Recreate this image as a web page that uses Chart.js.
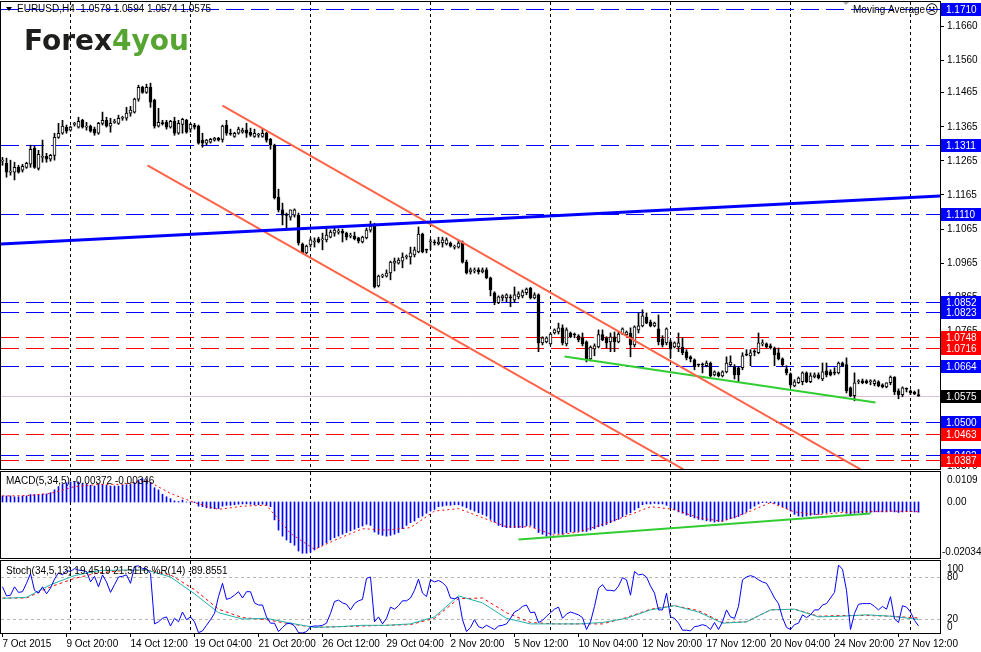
<!DOCTYPE html>
<html>
<head>
<meta charset="utf-8">
<script src="https://cdn.jsdelivr.net/npm/chart.js@4.4.0/dist/chart.umd.min.js"></script>
<style>
  body { margin: 0; background: #fff; width: 981px; height: 652px; overflow: hidden; }
  canvas { position: absolute; left: 0; }
</style>
</head>
<body>
<canvas id="priceChart" style="top:0px" width="981" height="470"></canvas>
<canvas id="macdChart" style="top:470px" width="981" height="89"></canvas>
<canvas id="stochChart" style="top:559px" width="981" height="93"></canvas>
<script>
// EURUSD H4, 7 Oct - 27 Nov 2015, one entry per bar
const timeLabels = ['7 Oct 2015', '9 Oct 20:00', '14 Oct 12:00', '19 Oct 04:00', '21 Oct 20:00',
  '26 Oct 12:00', '29 Oct 04:00', '2 Nov 20:00', '5 Nov 12:00', '10 Nov 04:00', '12 Nov 20:00',
  '17 Nov 12:00', '20 Nov 04:00', '24 Nov 20:00', '27 Nov 12:00'];
const LABEL_STEP = 16;
const gridBars = [17, 47, 77, 107, 137, 167, 197, 227];

const opens = [
  1.1264,1.1258,1.1232,1.1232,1.1246,1.1238,1.1246,1.1255,1.1302,1.1243,
  1.1275,1.1278,1.1270,1.1281,1.1334,1.1346,1.1364,1.1355,1.1372,1.1364,
  1.1384,1.1364,1.1367,1.1358,1.1346,1.1375,1.1384,1.1367,1.1378,1.1375,
  1.1390,1.1390,1.1405,1.1408,1.1446,1.1481,1.1466,1.1481,1.1443,1.1367,
  1.1375,1.1378,1.1364,1.1381,1.1346,1.1372,1.1384,1.1358,1.1370,1.1367,
  1.1326,1.1317,1.1320,1.1326,1.1331,1.1328,1.1370,1.1346,1.1337,1.1346,
  1.1349,1.1355,1.1349,1.1337,1.1340,1.1337,1.1346,1.1328,1.1311,1.1159,
  1.1121,1.1106,1.1100,1.1106,1.1106,1.1021,1.0995,1.1018,1.1027,1.1036,
  1.1033,1.1033,1.1041,1.1053,1.1056,1.1059,1.1053,1.1044,1.1044,1.1039,
  1.1027,1.1039,1.1062,1.1074,1.0898,1.0927,1.0927,1.0936,1.0965,1.0965,
  1.0971,1.0983,1.0983,1.0989,1.0998,1.1050,1.1004,1.1027,1.1027,1.1021,
  1.1024,1.1021,1.1024,1.1012,1.1012,1.1027,1.0968,1.0939,1.0942,1.0945,
  1.0939,1.0945,1.0922,1.0878,1.0849,1.0863,1.0863,1.0866,1.0857,1.0866,
  1.0869,1.0878,1.0892,1.0863,1.0872,1.0731,1.0734,1.0728,1.0760,1.0763,
  1.0775,1.0728,1.0760,1.0755,1.0752,1.0746,1.0734,1.0684,1.0713,1.0719,
  1.0755,1.0746,1.0734,1.0749,1.0734,1.0757,1.0755,1.0760,1.0725,1.0769,
  1.0781,1.0807,1.0792,1.0781,1.0772,1.0743,1.0731,1.0734,1.0719,1.0719,
  1.0719,1.0705,1.0690,1.0681,1.0667,1.0667,1.0664,1.0672,1.0637,1.0643,
  1.0634,1.0646,1.0667,1.0661,1.0658,1.0658,1.0696,1.0693,1.0705,1.0702,
  1.0728,1.0728,1.0722,1.0716,1.0702,1.0684,1.0655,1.0640,1.0605,1.0614,
  1.0617,1.0643,1.0617,1.0631,1.0637,1.0625,1.0649,1.0646,1.0643,1.0643,
  1.0672,1.0667,1.0599,1.0576,1.0617,1.0620,1.0620,1.0617,1.0611,1.0617,
  1.0608,1.0602,1.0614,1.0631,1.0590,1.0579,1.0596,1.0590,1.0587,1.0579
];
const highs = [
  1.1275,1.1273,1.1267,1.1261,1.1252,1.1255,1.1261,1.1311,1.1308,1.1296,
  1.1326,1.1287,1.1284,1.1346,1.1375,1.1384,1.1370,1.1367,1.1378,1.1393,
  1.1387,1.1378,1.1370,1.1364,1.1378,1.1408,1.1393,1.1390,1.1387,1.1399,
  1.1396,1.1422,1.1425,1.1449,1.1487,1.1484,1.1490,1.1493,1.1446,1.1419,
  1.1384,1.1384,1.1384,1.1393,1.1384,1.1390,1.1387,1.1375,1.1375,1.1370,
  1.1346,1.1328,1.1331,1.1334,1.1334,1.1370,1.1384,1.1358,1.1349,1.1364,
  1.1361,1.1375,1.1361,1.1358,1.1346,1.1358,1.1349,1.1331,1.1314,1.1182,
  1.1141,1.1112,1.1121,1.1124,1.1112,1.1024,1.1018,1.1039,1.1039,1.1041,
  1.1053,1.1065,1.1062,1.1068,1.1065,1.1065,1.1056,1.1053,1.1056,1.1041,
  1.1044,1.1068,1.1088,1.1082,1.0930,1.0933,1.0945,1.0971,1.0980,1.0980,
  1.0995,1.0989,1.1012,1.1012,1.1071,1.1053,1.1006,1.1036,1.1033,1.1041,
  1.1041,1.1039,1.1027,1.1018,1.1033,1.1030,1.0974,1.0951,1.0951,1.0951,
  1.0951,1.0951,1.0924,1.0881,1.0869,1.0872,1.0875,1.0872,1.0895,1.0881,
  1.0886,1.0892,1.0894,1.0878,1.0875,1.0749,1.0749,1.0760,1.0772,1.0789,
  1.0784,1.0775,1.0763,1.0760,1.0755,1.0760,1.0737,1.0722,1.0728,1.0769,
  1.0769,1.0749,1.0760,1.0763,1.0763,1.0775,1.0766,1.0775,1.0781,1.0819,
  1.0828,1.0819,1.0798,1.0792,1.0813,1.0752,1.0775,1.0740,1.0734,1.0760,
  1.0746,1.0711,1.0693,1.0684,1.0669,1.0672,1.0678,1.0675,1.0649,1.0646,
  1.0649,1.0690,1.0693,1.0667,1.0661,1.0702,1.0711,1.0711,1.0711,1.0760,
  1.0740,1.0731,1.0728,1.0719,1.0716,1.0687,1.0664,1.0643,1.0623,1.0631,
  1.0646,1.0646,1.0643,1.0643,1.0643,1.0672,1.0672,1.0652,1.0658,1.0675,
  1.0675,1.0687,1.0602,1.0643,1.0623,1.0625,1.0623,1.0623,1.0623,1.0620,
  1.0611,1.0614,1.0634,1.0632,1.0596,1.0602,1.0599,1.0593,1.0590,1.0594
];
const lows = [
  1.1252,1.1217,1.1223,1.1209,1.1229,1.1232,1.1243,1.1246,1.1243,1.1238,
  1.1261,1.1261,1.1264,1.1267,1.1331,1.1343,1.1346,1.1352,1.1367,1.1361,
  1.1361,1.1355,1.1349,1.1340,1.1343,1.1370,1.1364,1.1349,1.1375,1.1372,
  1.1384,1.1384,1.1396,1.1405,1.1440,1.1463,1.1463,1.1422,1.1361,1.1364,
  1.1370,1.1358,1.1361,1.1340,1.1343,1.1346,1.1346,1.1349,1.1358,1.1314,
  1.1305,1.1311,1.1317,1.1323,1.1323,1.1320,1.1340,1.1340,1.1334,1.1343,
  1.1346,1.1334,1.1337,1.1334,1.1334,1.1334,1.1320,1.1299,1.1153,1.1115,
  1.1077,1.1068,1.1091,1.1100,1.1018,1.0992,1.0992,1.1012,1.1012,1.1024,
  1.1004,1.1027,1.1039,1.1044,1.1050,1.1027,1.1033,1.1039,1.1033,1.1024,
  1.1024,1.1036,1.1056,1.0892,1.0895,1.0922,1.0924,1.0916,1.0942,1.0962,
  1.0951,1.0977,1.0962,1.0983,1.0995,1.0995,1.0995,1.1004,1.1018,1.1018,
  1.1012,1.1018,1.1012,1.1006,1.1009,1.0965,1.0933,1.0933,1.0936,1.0933,
  1.0936,1.0919,1.0869,1.0843,1.0846,1.0854,1.0852,1.0837,1.0849,1.0860,
  1.0863,1.0872,1.0860,1.0860,1.0705,1.0725,1.0731,1.0725,1.0757,1.0757,
  1.0725,1.0722,1.0746,1.0746,1.0734,1.0722,1.0675,1.0678,1.0693,1.0716,
  1.0737,1.0716,1.0705,1.0705,1.0731,1.0755,1.0752,1.0690,1.0719,1.0760,
  1.0778,1.0787,1.0778,1.0778,1.0725,1.0719,1.0725,1.0687,1.0716,1.0705,
  1.0696,1.0681,1.0675,1.0652,1.0661,1.0643,1.0661,1.0631,1.0634,1.0631,
  1.0631,1.0643,1.0661,1.0625,1.0617,1.0652,1.0693,1.0664,1.0693,1.0699,
  1.0722,1.0716,1.0713,1.0664,1.0681,1.0661,1.0637,1.0602,1.0602,1.0612,
  1.0608,1.0614,1.0614,1.0628,1.0625,1.0620,1.0631,1.0634,1.0637,1.0640,
  1.0661,1.0584,1.0573,1.0561,1.0611,1.0611,1.0611,1.0608,1.0605,1.0602,
  1.0599,1.0599,1.0608,1.0579,1.0567,1.0573,1.0587,1.0579,1.0579,1.0574
];
const closes = [
  1.1267,1.1232,1.1235,1.1246,1.1232,1.1249,1.1258,1.1299,1.1246,1.1284,
  1.1278,1.1270,1.1281,1.1334,1.1346,1.1367,1.1352,1.1364,1.1375,1.1381,
  1.1364,1.1365,1.1352,1.1346,1.1375,1.1384,1.1367,1.1375,1.1379,1.1390,
  1.1391,1.1405,1.1414,1.1446,1.1481,1.1466,1.1481,1.1437,1.1367,1.1378,
  1.1374,1.1364,1.1381,1.1346,1.1375,1.1387,1.1349,1.1372,1.1364,1.1317,
  1.1317,1.1326,1.1328,1.1331,1.1326,1.1367,1.1346,1.1343,1.1346,1.1358,
  1.1355,1.1346,1.1340,1.1346,1.1341,1.1346,1.1326,1.1311,1.1156,1.1121,
  1.1106,1.1105,1.1121,1.1121,1.1024,1.0995,1.1015,1.1033,1.1028,1.1027,
  1.1034,1.1047,1.1056,1.1062,1.1057,1.1053,1.1041,1.1045,1.1036,1.1030,
  1.1041,1.1062,1.1074,1.0895,1.0927,1.0928,1.0936,1.0968,1.0971,1.0974,
  1.0983,1.0984,1.0995,1.1004,1.1050,1.0998,1.1003,1.1028,1.1024,1.1027,
  1.1033,1.1033,1.1015,1.1013,1.1024,1.0968,1.0936,1.0945,1.0943,1.0939,
  1.0945,1.0922,1.0886,1.0849,1.0866,1.0869,1.0872,1.0863,1.0872,1.0875,
  1.0881,1.0889,1.0863,1.0872,1.0731,1.0746,1.0746,1.0757,1.0769,1.0775,
  1.0731,1.0769,1.0749,1.0754,1.0740,1.0728,1.0681,1.0719,1.0722,1.0755,
  1.0740,1.0731,1.0749,1.0734,1.0757,1.0772,1.0763,1.0725,1.0778,1.0781,
  1.0810,1.0789,1.0781,1.0789,1.0734,1.0725,1.0772,1.0713,1.0731,1.0731,
  1.0702,1.0687,1.0684,1.0661,1.0666,1.0666,1.0672,1.0634,1.0646,1.0634,
  1.0646,1.0672,1.0675,1.0637,1.0637,1.0693,1.0695,1.0702,1.0704,1.0731,
  1.0729,1.0719,1.0716,1.0696,1.0684,1.0667,1.0643,1.0608,1.0617,1.0628,
  1.0643,1.0617,1.0634,1.0637,1.0628,1.0646,1.0637,1.0637,1.0642,1.0672,
  1.0664,1.0590,1.0576,1.0614,1.0618,1.0614,1.0614,1.0618,1.0620,1.0605,
  1.0602,1.0614,1.0631,1.0587,1.0579,1.0599,1.0595,1.0584,1.0581,1.0575
];

// MACD(5,34,5) histogram, one per bar
const macdHist = [
  0.0022,0.0022,0.0022,0.0019,0.0019,0.0022,0.0022,0.0027,0.0027,0.0027,
  0.0029,0.0029,0.0034,0.0044,0.0056,0.0064,0.0070,0.0073,0.0073,0.0073,
  0.0068,0.0064,0.0061,0.0058,0.0064,0.0064,0.0061,0.0058,0.0058,0.0058,
  0.0061,0.0063,0.0064,0.0070,0.0080,0.0085,0.0082,0.0070,0.0052,0.0044,
  0.0028,0.0019,0.0012,0.0004,0.0002,0.0007,0.0000,-0.0001,-0.0002,-0.0015,
  -0.0017,-0.0021,-0.0023,-0.0024,-0.0024,-0.0015,-0.0012,-0.0012,-0.0010,-0.0008,
  -0.0007,-0.0007,-0.0008,-0.0010,-0.0010,-0.0008,-0.0012,-0.0017,-0.0065,-0.0102,
  -0.0124,-0.0138,-0.0148,-0.0157,-0.0178,-0.0186,-0.0186,-0.0182,-0.0174,-0.0166,
  -0.0157,-0.0148,-0.0138,-0.0130,-0.0124,-0.0117,-0.0111,-0.0105,-0.0099,-0.0093,
  -0.0087,-0.0081,-0.0085,-0.0109,-0.0117,-0.0121,-0.0124,-0.0121,-0.0117,-0.0111,
  -0.0097,-0.0085,-0.0075,-0.0069,-0.0057,-0.0051,-0.0041,-0.0033,-0.0027,-0.0017,
  -0.0015,-0.0012,-0.0012,-0.0010,-0.0010,-0.0015,-0.0021,-0.0027,-0.0033,-0.0039,
  -0.0045,-0.0051,-0.0063,-0.0073,-0.0085,-0.0090,-0.0093,-0.0093,-0.0093,-0.0093,
  -0.0093,-0.0087,-0.0085,-0.0093,-0.0111,-0.0117,-0.0124,-0.0121,-0.0114,-0.0114,
  -0.0117,-0.0111,-0.0109,-0.0109,-0.0107,-0.0107,-0.0107,-0.0102,-0.0097,-0.0090,
  -0.0087,-0.0082,-0.0075,-0.0069,-0.0063,-0.0053,-0.0045,-0.0039,-0.0029,-0.0021,
  -0.0010,-0.0007,-0.0007,-0.0005,-0.0007,-0.0007,-0.0012,-0.0021,-0.0029,-0.0036,
  -0.0041,-0.0048,-0.0053,-0.0058,-0.0063,-0.0065,-0.0068,-0.0070,-0.0073,-0.0071,
  -0.0070,-0.0065,-0.0061,-0.0058,-0.0053,-0.0045,-0.0036,-0.0024,-0.0015,-0.0007,
  -0.0002,-0.0002,-0.0002,-0.0005,-0.0010,-0.0017,-0.0024,-0.0033,-0.0045,-0.0051,
  -0.0053,-0.0051,-0.0048,-0.0046,-0.0045,-0.0041,-0.0039,-0.0036,-0.0036,-0.0034,
  -0.0034,-0.0041,-0.0044,-0.0041,-0.0039,-0.0039,-0.0038,-0.0038,-0.0036,-0.0036,
  -0.0036,-0.0036,-0.0034,-0.0036,-0.0038,-0.0036,-0.0035,-0.0035,-0.0036,-0.0037
];

// smooth lines read once per day (every 6th bar) plus the last bar
const sampleBars = [0,6,12,18,24,30,36,42,48,54,60,66,72,78,84,90,96,102,108,114,
  120,126,132,138,144,150,156,162,168,174,180,186,192,198,204,210,216,222,229];
const macdSignal = [0.0022,0.0023,0.0031,0.0056,0.0064,0.0064,0.0079,0.0031,-0.0002,-0.0027,
  -0.0015,-0.0012,-0.0114,-0.0172,-0.0133,-0.0097,-0.0102,-0.0093,-0.0033,-0.0024,
  -0.0057,-0.0090,-0.0090,-0.0121,-0.0109,-0.0081,-0.0051,-0.0017,-0.0027,-0.0057,
  -0.0070,-0.0039,-0.0002,-0.0036,-0.0046,-0.0038,-0.0035,-0.0033,-0.0035];
const stochMain = [49.5,51,69,82,89,90,90,80,56,29,20,21,14,8,9,11,11,13,23,53,
  43,21,13,13,13,15,21,33,39,30,14,16,33,34,23,24,26,24,19.45];
const stochSignal = [50,50,66,78,86,89,90,83,62,34,22,19,13,8,9,10,11,12,21,49,
  50,29,15,13,13,13,22,34,39,32,15,16,33,34,24,25,25,24,21.51];

// Williams %R(14), one per bar
const wprValues = [
  -34,-47,-46,-34,-42,-41,-29,-15,-39,-43,
  -34,-44,-36,-23,-14,-17,-11,-12,-8,-10,
  -11,-12,-27,-19,-34,-17,-27,-42,-31,-20,
  -19,-17,-29,-5,-4,-8,-8,-15,-87,-84,
  -79,-77,-90,-79,-84,-70,-81,-77,-84,-99.5,
  -97,-89,-81,-72,-48,-29,-52,-50,-46,-41,
  -50,-41,-41,-57,-60,-60,-77,-86,-86,-98,
  -92,-87,-86,-90,-99.5,-100,-98,-91,-90,-90,
  -89,-86,-72,-55,-53,-57,-59,-67,-58,-54,
  -52,-22,-20,-84,-77,-87,-79,-63,-66,-61,
  -54,-54,-50,-39,-23,-43,-48,-24,-27,-25,
  -28,-34,-50,-51,-49,-81,-98,-92,-81,-91,
  -93,-89,-92,-95,-90,-89,-87,-79,-70,-67,
  -62,-60,-71,-70,-85,-82,-76,-71,-66,-63,
  -79,-73,-70,-72,-74,-78,-95,-84,-62,-36,
  -31,-39,-39,-40,-33,-21,-24,-46,-12,-17,
  -16,-20,-33,-43,-67,-67,-43,-77,-79,-86,
  -96,-96,-97,-91,-90,-88,-90,-95,-85,-95,
  -84,-67,-77,-79,-62,-24,-20,-18,-20,-24,
  -27,-29,-39,-50,-58,-78,-92,-95,-88,-86,
  -74,-78,-74,-67,-67,-60,-58,-50,-42,-3,
  -9,-39,-95,-72,-59,-58,-58,-58,-62,-67,
  -62,-66,-48,-80,-85,-61,-63,-70,-82,-89.86
];

// horizontal price levels and hand-drawn lines
const blueLevels = [1.1710, 1.1311, 1.1110, 1.0852, 1.0823, 1.0664, 1.0500, 1.0402];
const redLevels = [1.0748, 1.0716, 1.0463, 1.0387];
const priceTicks = [1.1660, 1.1560, 1.1465, 1.1365, 1.1265, 1.1165, 1.1065, 1.0965,
  1.0865, 1.0765, 1.0370];
const blueTrendBars = [-0.375, 234.375], blueTrendPrices = [1.1021, 1.1162];
const upperChannelBars = [55, 214.5], upperChannelPrices = [1.1427, 1.0360];
const lowerChannelBars = [36.25, 170.25], lowerChannelPrices = [1.1252, 1.0360];
const supportBars = [140.5, 218.25], supportPrices = [1.0691, 1.0556];
const macdTrendBars = [129, 217], macdTrendValues = [-0.0136, -0.0042];
const macdAxisTicks = [0.0109, 0, -0.02034];
const macdAxisText = ['0.0109', '0.00', '-0.02034'];
const stochAxisTicks = [100, 80, 20, 0];
const stochLevels = [80, 20];

const X_MIN = -0.375, X_MAX = 234.375; // 4 px per bar
const FONT = '"Liberation Sans", Arial, sans-serif';

Chart.defaults.font.family = FONT;
Chart.defaults.font.size = 10;
Chart.defaults.color = '#000';
Chart.defaults.animation = false;
Chart.defaults.plugins.legend.display = false;
Chart.defaults.plugins.tooltip.enabled = false;
Chart.defaults.elements.point.radius = 0;

const seg = (bars, vals) => bars.map((b, i) => ({ x: b, y: vals[i] }));
const last = closes.length - 1;

// right-hand axis: fixed width, no extra room for half labels at the ends
const fitRight = s => { s.width = 41; s.paddingTop = 0; s.paddingBottom = 0; };

function gridAxis() {
  return {
    type: 'linear', position: 'top', min: X_MIN, max: X_MAX, offset: false,
    afterFit: s => { s.height = 0; s.paddingLeft = 0; s.paddingRight = 0; },
    afterBuildTicks: s => { s.ticks = gridBars.map(v => ({ value: v })); },
    ticks: { display: false },
    grid: { offset: false, color: '#000', lineWidth: 1, drawTicks: false },
    border: { display: false, dash: [3, 3] }
  };
}
function hiddenX() {
  return { type: 'linear', min: X_MIN, max: X_MAX, offset: false, display: false, grid: { offset: false } };
}
function frame(ctx, a) {
  ctx.strokeStyle = '#000';
  ctx.lineWidth = 1;
  ctx.setLineDash([]);
  ctx.strokeRect(a.left - 0.5, a.top - 0.5, a.right - a.left + 1, a.bottom - a.top + 1);
}
function lineDs(data, color, width, order, extra) {
  return Object.assign({ type: 'line', data, borderColor: color, borderWidth: width,
    pointRadius: 0, fill: false, order }, extra || {});
}

// ---------- price panel ----------
const priceOverlay = {
  id: 'priceOverlay',
  beforeDatasetsDraw(chart) {
    const { ctx, chartArea: a, scales: { y } } = chart;
    ctx.save();
    ctx.lineWidth = 1;
    const level = (p, color) => {
      const py = Math.round(y.getPixelForValue(p)) + 0.5;
      ctx.strokeStyle = color;
      ctx.beginPath(); ctx.moveTo(a.left, py); ctx.lineTo(a.right, py); ctx.stroke();
    };
    ctx.setLineDash([]);
    level(closes[last], '#dcbfdc');
    ctx.setLineDash([18, 7]);
    blueLevels.forEach(p => level(p, '#0000ff'));
    redLevels.forEach(p => level(p, '#ff0000'));
    ctx.restore();
  },
  afterDraw(chart) {
    const { ctx, chartArea: a, scales: { y } } = chart;
    ctx.save();
    frame(ctx, a);
    // price tags on the right axis
    ctx.font = '10px ' + FONT;
    ctx.textBaseline = 'middle';
    const tag = (p, bg) => {
      const py = Math.round(y.getPixelForValue(p));
      ctx.fillStyle = bg;
      ctx.fillRect(a.right + 1, py - 6, 40, 13);
      ctx.fillStyle = '#fff';
      ctx.fillText(p.toFixed(4), a.right + 6, py + 1);
    };
    blueLevels.forEach(p => tag(p, '#0000ff'));
    redLevels.forEach(p => tag(p, '#ff0000'));
    tag(closes[last], '#000');

    // header
    ctx.fillStyle = '#000';
    ctx.beginPath(); ctx.moveTo(6, 7); ctx.lineTo(12, 7); ctx.lineTo(9, 11); ctx.closePath(); ctx.fill();
    ctx.fillText('EURUSD,H4  ' + [opens[last], highs[last], lows[last], closes[last]].map(v => v.toFixed(4)).join(' '), 17, 9);
    ctx.fillText('Moving Average', 853, 10);
    ctx.fillStyle = '#aaa';
    ctx.beginPath(); ctx.moveTo(843, 2); ctx.lineTo(849, 2); ctx.lineTo(846, 5); ctx.closePath(); ctx.fill();
    ctx.fillStyle = '#000';
    ctx.font = '13px "DejaVu Sans"';
    ctx.fillText('\u2639', 925, 11);

    // logo
    ctx.textBaseline = 'alphabetic';
    ctx.font = 'bold 28px "DejaVu Sans"';
    ctx.fillStyle = '#1e1e1c';
    ctx.fillText('Forex', 24, 50);
    const w = ctx.measureText('Forex').width;
    ctx.fillStyle = '#56a532';
    ctx.fillText('4you', 24 + w, 50);
    ctx.restore();
  }
};

new Chart(document.getElementById('priceChart'), {
  type: 'line',
  data: {
    datasets: [
      { type: 'bar', data: lows.map((l, i) => ({ x: i, y: [l, highs[i]] })),
        backgroundColor: '#000', barThickness: 1, grouped: false, minBarLength: 1, order: 3 },
      { type: 'bar', data: opens.map((o, i) => ({ x: i, y: [o, closes[i]] })),
        backgroundColor: c => closes[c.dataIndex] >= opens[c.dataIndex] ? '#fff' : '#000',
        borderColor: '#000', borderWidth: 1, borderSkipped: false,
        barThickness: 3, grouped: false, minBarLength: 1, order: 2 },
      lineDs(seg(blueTrendBars, blueTrendPrices), '#0000ff', 3, 0),
      lineDs(seg(upperChannelBars, upperChannelPrices), '#ff6347', 2, 0),
      lineDs(seg(lowerChannelBars, lowerChannelPrices), '#ff6347', 2, 0),
      lineDs(seg(supportBars, supportPrices), '#32cd32', 2, 0)
    ]
  },
  options: {
    responsive: false, devicePixelRatio: 1,
    layout: { padding: { top: 2, bottom: 1, left: 1, right: 0 } },
    scales: {
      x: hiddenX(),
      xg: gridAxis(),
      y: {
        position: 'right', min: 1.0361, max: 1.1731,
        afterFit: fitRight,
        afterBuildTicks: s => { s.ticks = priceTicks.map(v => ({ value: v })); },
        ticks: { autoSkip: false, padding: 3, callback: v => v.toFixed(4) },
        grid: { drawOnChartArea: false, tickLength: 4, color: '#000' },
        border: { color: '#000' }
      }
    }
  },
  plugins: [priceOverlay]
});

// ---------- MACD panel ----------
const macdOverlay = {
  id: 'macdOverlay',
  afterDraw(chart) {
    const { ctx, chartArea: a, scales: { y } } = chart;
    ctx.save();
    frame(ctx, a);
    ctx.font = '10px ' + FONT;
    ctx.fillStyle = '#000';
    ctx.textBaseline = 'middle';
    ctx.fillText('MACD(5,34,5) -0.00372 -0.00346', 6, 11);
    const n = macdAxisTicks.length - 1;
    macdAxisTicks.forEach((v, k) => {
      const py = y.getPixelForValue(v);
      ctx.textBaseline = k === 0 ? 'top' : (k === n ? 'bottom' : 'middle');
      const ty = k === 0 ? py + 3 : (k === n ? py - 1 : py);
      ctx.fillText(macdAxisText[k], a.right + (k === n ? 2 : 7), ty);
    });
    ctx.restore();
  }
};

new Chart(document.getElementById('macdChart'), {
  type: 'line',
  data: {
    datasets: [
      { type: 'bar', data: macdHist.map((v, i) => ({ x: i, y: v })),
        backgroundColor: '#0000ff', barThickness: 1, grouped: false, order: 2 },
      lineDs(seg(sampleBars, macdSignal), '#ff0000', 1, 1, { borderDash: [2, 3] }),
      lineDs(seg(macdTrendBars, macdTrendValues), '#32cd32', 2, 0)
    ]
  },
  options: {
    responsive: false, devicePixelRatio: 1,
    layout: { padding: { top: 2, bottom: 1, left: 1, right: 0 } },
    scales: {
      x: hiddenX(),
      xg: gridAxis(),
      y: {
        position: 'right', min: -0.02034, max: 0.0109,
        afterFit: fitRight,
        ticks: { display: false }, grid: { display: false },
        border: { color: '#000' }
      }
    }
  },
  plugins: [macdOverlay]
});

// ---------- Stochastic / %R panel ----------
const stochOverlay = {
  id: 'stochOverlay',
  beforeDatasetsDraw(chart) {
    const { ctx, chartArea: a, scales: { y } } = chart;
    ctx.save();
    ctx.strokeStyle = '#b8b8b8';
    ctx.lineWidth = 1;
    ctx.setLineDash([3, 3]);
    stochLevels.forEach(v => {
      const py = Math.round(y.getPixelForValue(v)) + 0.5;
      ctx.beginPath(); ctx.moveTo(a.left, py); ctx.lineTo(a.right, py); ctx.stroke();
    });
    ctx.restore();
  },
  afterDraw(chart) {
    const { ctx, chartArea: a, scales: { y } } = chart;
    ctx.save();
    frame(ctx, a);
    ctx.font = '10px ' + FONT;
    ctx.fillStyle = '#000';
    ctx.textBaseline = 'middle';
    ctx.fillText('Stoch(34,5,13) 19.4519 21.5116 %R(14) -89.8551', 6, 12);
    const n = stochAxisTicks.length - 1;
    stochAxisTicks.forEach((v, k) => {
      const py = y.getPixelForValue(v);
      ctx.textBaseline = k === 0 ? 'top' : (k === n ? 'bottom' : 'middle');
      const ty = k === 0 ? py + 1 : (k === n ? py - 1 : py);
      ctx.fillText(String(v), a.right + 7, ty);
    });
    ctx.restore();
  }
};

new Chart(document.getElementById('stochChart'), {
  type: 'line',
  data: {
    datasets: [
      lineDs(seg(sampleBars, stochSignal), '#ff0000', 1, 2, { borderDash: [3, 3] }),
      lineDs(seg(sampleBars, stochMain), '#20b2aa', 1, 1),
      lineDs(wprValues.map((v, i) => ({ x: i, y: v })), '#0000ff', 1, 0, { yAxisID: 'yr' })
    ]
  },
  options: {
    responsive: false, devicePixelRatio: 1,
    layout: { padding: { top: 2, bottom: 0, left: 1, right: 0 } },
    scales: {
      x: {
        type: 'linear', min: X_MIN, max: X_MAX, offset: false,
        afterFit: s => { s.height = 19; s.paddingLeft = 0; s.paddingRight = 0; },
        afterBuildTicks: s => { s.ticks = timeLabels.map((_, k) => ({ value: k * LABEL_STEP })); },
        ticks: { autoSkip: false, maxRotation: 0, minRotation: 0, align: 'start', padding: 1,
          callback: (v, k) => timeLabels[k] },
        grid: { offset: false, drawOnChartArea: false, tickLength: 4, color: '#000' },
        border: { color: '#000' }
      },
      xg: gridAxis(),
      y: {
        position: 'right', min: 0, max: 102.86,
        afterFit: fitRight,
        ticks: { display: false }, grid: { display: false },
        border: { color: '#000' }
      },
      yr: { position: 'right', min: -100, max: 2.86, display: false }
    }
  },
  plugins: [stochOverlay]
});
</script>
</body>
</html>
